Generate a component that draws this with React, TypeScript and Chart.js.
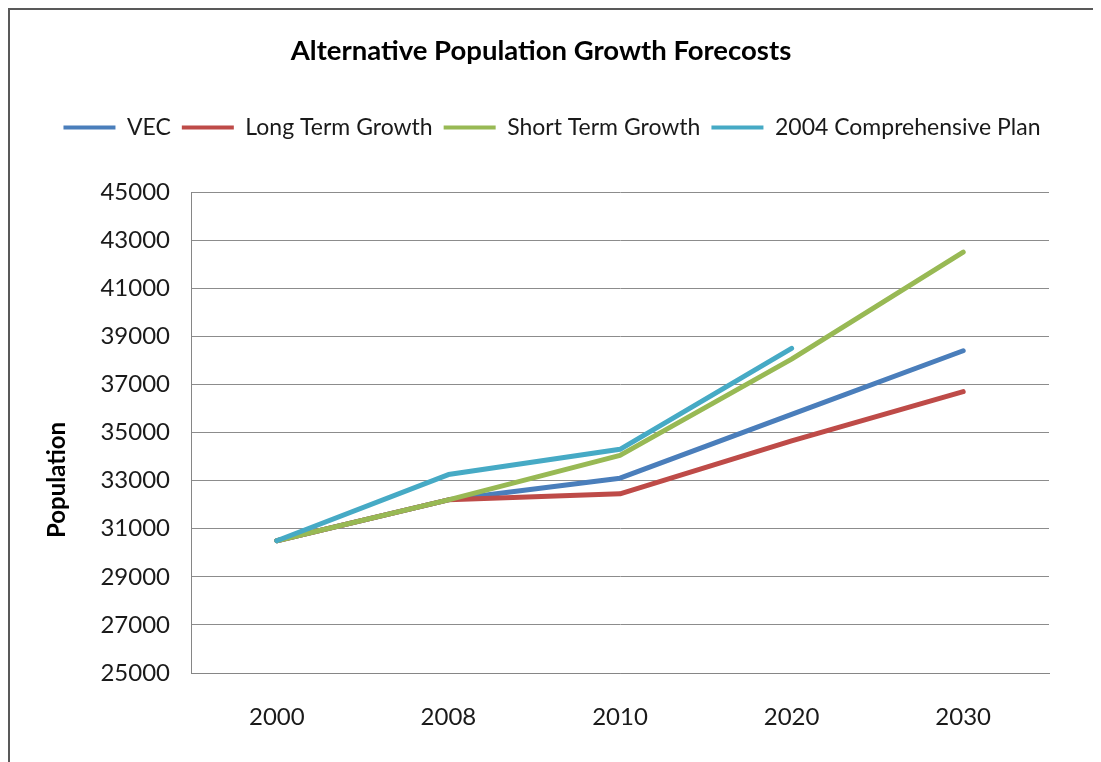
import React, { useEffect, useRef } from "react";
import { Chart, registerables } from "chart.js";

Chart.register(...registerables);

const years = ["2000", "2008", "2010", "2020", "2030"];
const vec = [30500, 32200, 33100, 35750, 38400];
const longTerm = [30500, 32200, 32450, 34650, 36700];
const shortTerm = [30500, 32200, 34050, 38050, 42500];
const compPlan = [30500, 33250, 34300, 38500, null];

const FONT = "Lato, 'Open Sans', sans-serif";

const yTitlePlugin = {
  id: "yTitle",
  afterLayout(chart: any) {
    if (chart.legend) {
      chart.legend.left += 11;
      chart.legend.right += 11;
    }
  },
  afterDraw(chart: any) {
    const ctx = chart.ctx;
    ctx.save();
    ctx.translate(47, 470);
    ctx.rotate(-Math.PI / 2);
    ctx.font = `bold 24px ${FONT}`;
    ctx.fillStyle = "#000";
    ctx.textAlign = "center";
    ctx.textBaseline = "middle";
    ctx.fillText("Population", 0, 0);
    ctx.restore();
  },
};

export default function App() {
  const ref = useRef<HTMLCanvasElement>(null);
  useEffect(() => {
    if (!ref.current) return;
    const mk = (label: string, data: (number | null)[], color: string, order: number) => ({
      label,
      data,
      borderColor: color,
      backgroundColor: color,
      borderWidth: 5,
      borderCapStyle: "round" as const,
      borderJoinStyle: "round" as const,
      pointRadius: 0,
      tension: 0,
      order,
    });
    const chart = new Chart(ref.current, {
      type: "line",
      data: {
        labels: years,
        datasets: [
          mk("VEC", vec, "#4A7EBB", 4),
          mk("Long Term Growth", longTerm, "#BE4B48", 3),
          mk("Short Term Growth", shortTerm, "#98B954", 2),
          mk("2004 Comprehensive Plan", compPlan, "#46AAC5", 1),
        ],
      },
      options: {
        animation: false,
        responsive: false,
        layout: { padding: { left: 0, right: 29, top: 0, bottom: 0 } },
        plugins: {
          title: {
            display: true,
            text: "Alternative Population Growth Forecosts",
            color: "#000",
            font: { family: FONT, size: 27.5, weight: "bold" },
            padding: { top: 25, bottom: 37 },
          },
          legend: {
            display: true,
            labels: {
              boxWidth: 52,
              boxHeight: 4,
              padding: 11,
              color: "#1a1a1a",
              font: { family: FONT, size: 23 },
              sort: (a: any, b: any) => a.datasetIndex - b.datasetIndex,
              generateLabels: (chart: any) => {
                const items = Chart.defaults.plugins.legend.labels.generateLabels(chart);
                return items.map((it: any) => ({
                  ...it,
                  fillStyle: it.strokeStyle,
                  lineWidth: 0,
                }));
              },
            },
          },
          tooltip: { enabled: false },
        },
        scales: {
          x: {
            type: "category",
            offset: true,
            grid: { display: false, drawTicks: false },
            border: { display: true, color: "#868686", width: 1 },
            ticks: {
              color: "#1a1a1a",
              font: { family: FONT, size: 24 },
              padding: 30,
            },
            afterFit: (s: any) => {
              s.height = 89;
            },
          },
          xTop: {
            type: "category",
            position: "top",
            display: true,
            grid: { display: false, drawTicks: false },
            border: { display: false },
            ticks: { display: false },
            afterFit: (s: any) => {
              s.height = 43;
            },
          },
          y: {
            type: "linear",
            min: 25000,
            max: 45000,
            grid: { color: "#8c8c8c", lineWidth: 1, drawTicks: false },
            border: { display: true, color: "#868686", width: 1 },
            ticks: {
              stepSize: 2000,
              color: "#1a1a1a",
              font: { family: FONT, size: 24 },
              padding: 21,
              callback: (v: any) => String(v),
            },
            afterFit: (s: any) => {
              s.width = 181;
            },
          },
          yRight: {
            type: "linear",
            position: "right",
            display: true,
            grid: { display: false, drawTicks: false },
            border: { display: false },
            ticks: { display: false },
            afterFit: (s: any) => {
              s.width = 23;
            },
          },
        },
      },
      plugins: [yTitlePlugin],
    } as any);
    return () => chart.destroy();
  }, []);
  return (
    <div
      style={{
        width: 1093,
        height: 754,
        borderLeft: "2px solid #595959",
        borderTop: "2px solid #595959",
        boxSizing: "border-box",
        overflow: "hidden",
      }}
    >
      <canvas ref={ref} width={1091} height={752} style={{ display: "block" }} />
    </div>
  );
}
